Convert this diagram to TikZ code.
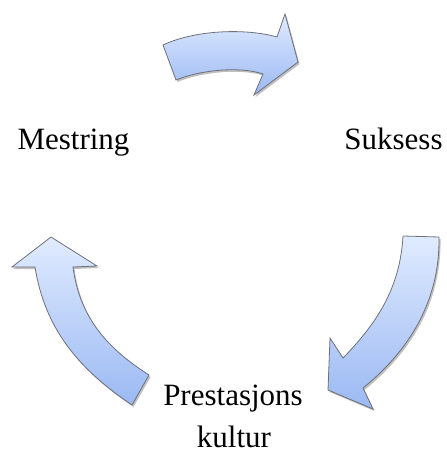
\documentclass[tikz,border=0pt]{standalone}
\usepackage{fontspec}
\setmainfont{Liberation Serif}
\usetikzlibrary{shadows}
\definecolor{arrtop}{RGB}{224,235,255}
\definecolor{arrbot}{RGB}{155,185,243}
\definecolor{arredge}{RGB}{110,112,122}
\tikzset{
  cyclearrow/.style={draw=arredge, line width=0.8pt, line join=miter,
    top color=arrtop, bottom color=arrbot,
    drop shadow={shadow xshift=1.5pt, shadow yshift=-2pt, opacity=0.25, fill=black}},
  lbl/.style={anchor=base, inner sep=0pt, font=\fontsize{31}{36}\selectfont}
}
\begin{document}
\begin{tikzpicture}[x=1pt,y=-1pt]
\useasboundingbox (0,0) rectangle (446,454);
% top arrow
\path[cyclearrow] (163,45) .. controls (195,30) and (245,28) .. (277,37)
  -- (285,14) -- (298,62) -- (254,95) -- (263,74)
  .. controls (240,66) and (200,70) .. (176,80) -- cycle;
% right arrow
\path[cyclearrow] (403,236) -- (439,237) .. controls (440,300) and (410,350) .. (363,388)
  -- (373,409) -- (328,390) -- (330,338) -- (343,358)
  .. controls (375,325) and (400,290) .. (403,236) -- cycle;
% left arrow
\path[cyclearrow] (51,237) -- (97,266) -- (73,267)
  .. controls (80,320) and (110,350) .. (149,375) -- (132,405)
  .. controls (80,370) and (45,330) .. (35,267) -- (12,267) -- cycle;
\node[lbl] (mestring) at (73.5,150) {Mestring};
\node[lbl] (suksess) at (393.5,150) {Suksess};
\node[lbl] (prest) at (233,405) {Prestasjons};
\node[lbl] (kultur) at (234,447) {kultur};
\end{tikzpicture}
\end{document}
